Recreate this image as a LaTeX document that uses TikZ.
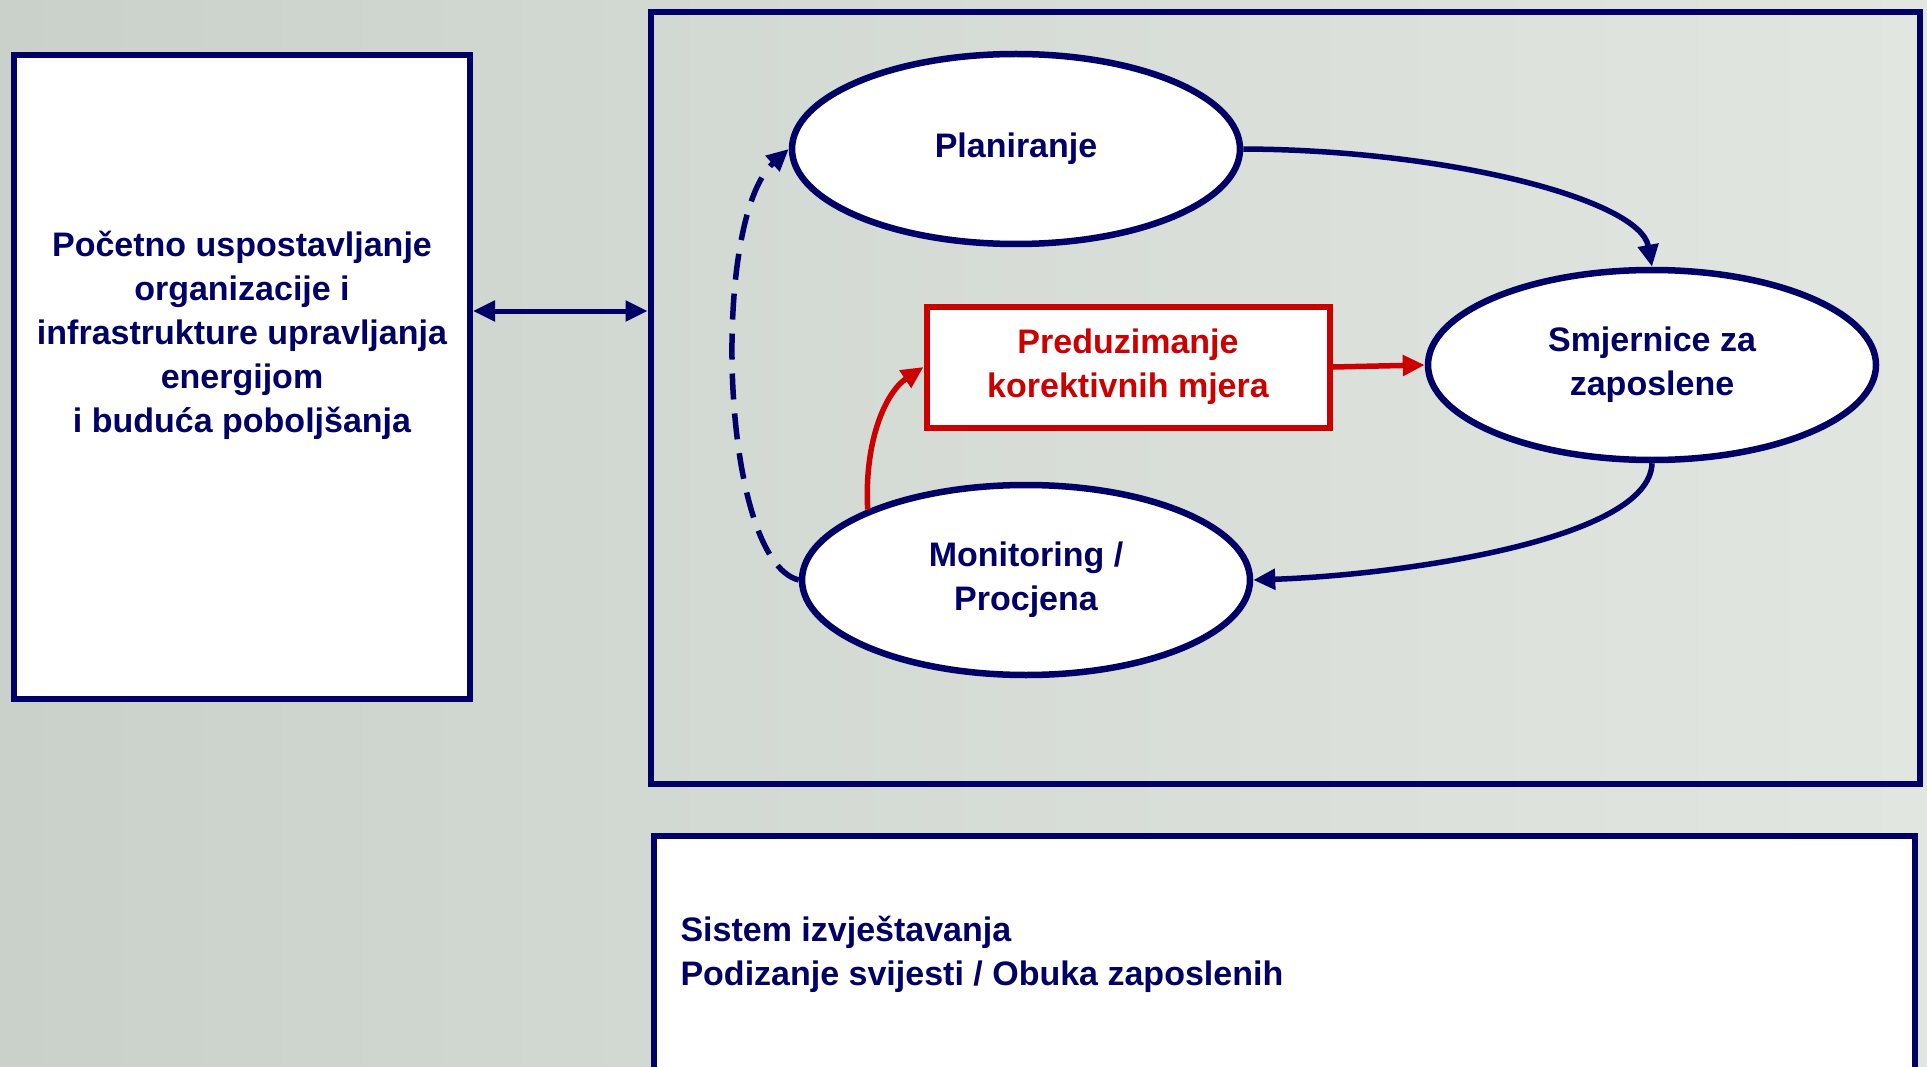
\documentclass[tikz,border=0pt]{standalone}
\usepackage{fontspec}
\setmainfont{Liberation Sans}
\usetikzlibrary{shapes.geometric,arrows.meta}
\definecolor{navy}{RGB}{0,0,102}
\definecolor{redc}{RGB}{204,0,0}
\definecolor{bgL}{RGB}{202,209,203}
\definecolor{bgR}{RGB}{226,230,224}
\begin{document}
\begin{tikzpicture}[x=1pt,y=-1pt,
  every node/.style={font=\fontsize{34}{44}\selectfont\bfseries},
  boxshape/.style={draw=navy, line width=6pt, fill=white, inner sep=0pt},
  ell/.style={ellipse, draw=navy, line width=6.5pt, fill=white, minimum width=448pt, minimum height=190pt, inner sep=0pt, text=navy, align=center},
  tipA/.tip={Triangle[length=22pt,width=20pt]},
  arr/.style={draw=navy, line width=5.5pt, -tipA},
  redarr/.style={draw=redc, line width=5.5pt, -tipA},
]
\useasboundingbox (0,0) rectangle (1927,1067);
\shade[left color=bgL, right color=bgR] (0,0) rectangle (1927,1067);

% boxes
\node[boxshape, minimum width=456pt, minimum height=644pt] (leftbox) at (242,377) {};
\node[text=navy, align=center] (lefttext) at (242,335) {Početno uspostavljanje\\organizacije i\\infrastrukture upravljanja\\energijom\\i buduća poboljšanja};
\node[draw=navy, line width=6pt, minimum width=1269pt, minimum height=771pt, inner sep=0pt] (mainbox) at (1285,398) {};
\node[boxshape, minimum width=1261pt, minimum height=240pt] (botbox) at (1284,956) {};
\node[text=navy, align=left, anchor=west] (bottext) at (677,954) {Sistem izvještavanja\\Podizanje svijesti / Obuka zaposlenih};

% ellipses
\node[ell] (plan) at (1016,149) {Planiranje};
\node[ell] (smj) at (1652,365) {Smjernice za\\zaposlene};
\node[ell] (mon) at (1026,580) {Monitoring /\\Procjena};
\node[draw=redc, line width=6pt, fill=white, minimum width=403pt, minimum height=121pt, text=redc, align=center, inner sep=0pt] (red) at (1128,367) {Preduzimanje\\korektivnih mjera};

% connectors
\coordinate (dA) at (0,311);
\draw[navy, line width=5pt, tipA-tipA] (leftbox.east |- dA) -- (mainbox.west |- dA);
\draw[arr] (plan.east) .. controls (1450,150) and (1640,200) .. (smj.north);
\draw[arr] (smj.south) .. controls (1650,540) and (1400,575) .. (mon.east);
\draw[redarr] (mon.156) .. controls (864,440) and (886,392) .. (red.west);
\draw[redarr] (red.east) -- (smj.west);
\draw[arr, dash pattern=on 26pt off 14pt] (mon.west) .. controls (720,560) and (710,220) .. (plan.west);
\end{tikzpicture}
\end{document}
